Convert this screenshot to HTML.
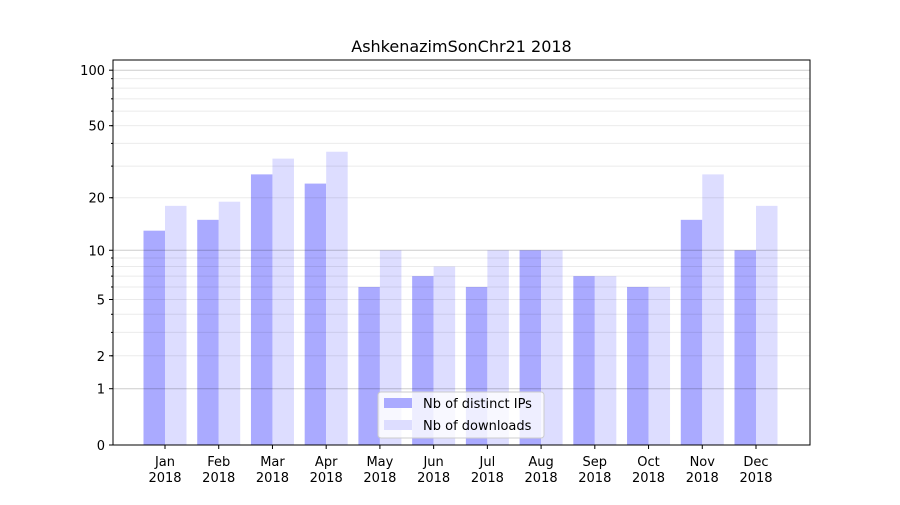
<!DOCTYPE html>
<html><head><meta charset="utf-8"><style>
body{margin:0;background:#fff;font-family:"Liberation Sans","DejaVu Sans",sans-serif;}
svg text{font-family:"DejaVu Sans","Liberation Sans",sans-serif;font-size:13px;fill:#000;}
</style></head><body>
<svg id="chart" width="900" height="500">
<rect width="900" height="500" fill="#fff"/>
<g id="bars"></g><g id="grid"></g><g id="axes"></g>
</svg>
<script>
const months=["Jan","Feb","Mar","Apr","May","Jun","Jul","Aug","Sep","Oct","Nov","Dec"];
const distinctIPs=[13,15,27,24,6,7,6,10,7,6,15,10];
const downloads=[18,19,33,36,10,8,10,10,7,6,27,18];
const majorTicks=[0,1,2,5,10,20,50,100];
const minorGrid=[2,3,4,5,6,7,8,9,20,30,40,50,60,70,80,90];
const majorGrid=[1,10,100];
const NS="http://www.w3.org/2000/svg";
const L=113,R=810,T=60,B=445,K=187;
function y(v){return B-Math.log10(v+1)*K;}
const step=(R-L)/13;
function xc(i){return L+step*(i+1)-6+ i*0.0;}
function mk(tag,attrs,parent){const e=document.createElementNS(NS,tag);for(const k in attrs)e.setAttribute(k,attrs[k]);parent.appendChild(e);return e;}
const bars=document.getElementById('bars'),grid=document.getElementById('grid'),axes=document.getElementById('axes');
const cx=i=>165+i*(756-165)/11;
months.forEach((m,i)=>{
 const c=cx(i);
 let r=mk('rect',{x:c-21.5,y:y(distinctIPs[i]),width:21.5,height:B-y(distinctIPs[i]),fill:'#aaaaff'},bars);
 
 
 let r2=mk('rect',{x:c,y:y(downloads[i]),width:21.5,height:B-y(downloads[i]),fill:'#ddddff'},bars);
 
 
 mk('line',{x1:c,x2:c,y1:B,y2:B+4,stroke:'#000'},axes);
 let t=mk('text',{x:c,y:B+21,'text-anchor':'middle'},axes);t.textContent=m;
 
 
 let t2=mk('text',{x:c,y:B+37,'text-anchor':'middle'},axes);t2.textContent='2018';
 
 
});
minorGrid.forEach(v=>{mk('line',{x1:L,x2:R,y1:y(v),y2:y(v),stroke:'#000','stroke-opacity':0.08,'stroke-width':1},grid);});
majorGrid.forEach(v=>{mk('line',{x1:L,x2:R,y1:y(v),y2:y(v),stroke:'#000','stroke-opacity':0.2,'stroke-width':1},grid);});
let fr=mk('rect',{x:L,y:T,width:R-L,height:B-T,fill:'none',stroke:'#000','stroke-width':1},axes);


majorTicks.forEach(v=>{
 mk('line',{x1:L-4,x2:L,y1:y(v),y2:y(v),stroke:'#000'},axes);
 let t=mk('text',{x:L-8,y:y(v)+5,'text-anchor':'end'},axes);t.textContent=v;
 
 
});
minorGrid.forEach(v=>{mk('line',{x1:L-2,x2:L,y1:y(v),y2:y(v),stroke:'#000'},axes);});
let title=mk('text',{x:461.5,y:52,'text-anchor':'middle',style:'font-size:16px'},axes);title.textContent='AshkenazimSonChr21 2018';


const lg=mk('g',{},axes);


mk('rect',{x:378,y:392,width:166,height:46,rx:3,fill:'#fff','fill-opacity':0.8,stroke:'#ccc'},lg);
mk('rect',{x:384,y:398,width:28,height:10,fill:'#aaaaff'},lg);
mk('rect',{x:384,y:420,width:28,height:10,fill:'#ddddff'},lg);
let l1=mk('text',{x:423,y:408},lg);l1.textContent='Nb of distinct IPs';


let l2=mk('text',{x:423,y:430},lg);l2.textContent='Nb of downloads';


</script>
</body></html>
